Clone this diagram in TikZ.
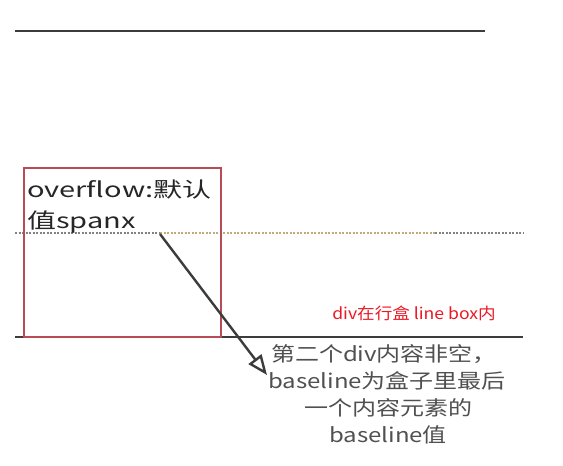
\documentclass[tikz,border=0pt]{standalone}
\usepackage{fontspec}
\usetikzlibrary{arrows.meta}
\newfontfamily\cjkbox[FakeStretch=1.38]{Noto Sans CJK SC}
\newfontfamily\cjknote[FakeStretch=1.2]{Noto Sans CJK SC}
\newfontfamily\cjkred[FakeStretch=1.1]{Noto Sans CJK SC}
\definecolor{linegray}{RGB}{60,60,60}
\definecolor{boxred}{RGB}{185,75,85}
\definecolor{notegray}{RGB}{80,80,80}
\definecolor{dottan}{RGB}{195,170,120}
\definecolor{dotgray}{RGB}{130,130,130}
\definecolor{redtext}{RGB}{235,25,35}
\tikzset{
  rule/.style={draw=linegray, line width=1.3pt},
  dotrule/.style={line width=1.2pt, dash pattern=on 2pt off 1.5pt},
  boxtxt/.style={inner sep=0pt, anchor=base west, font=\cjkbox\fontsize{21}{24}\selectfont, text=black!85},
  notetxt/.style={inner sep=0pt, anchor=base, font=\cjknote\fontsize{20}{24}\selectfont, text=notegray},
}
\begin{document}
\begin{tikzpicture}[x=1pt,y=-1pt]
\useasboundingbox[fill=white] (0,0) rectangle (563,466);
% lines
\coordinate (t1) at (15,31);
\coordinate (t2) at (485,31);
\draw[rule] (t1) -- (t2);
\coordinate (d1) at (15,233);
\coordinate (d2) at (160,233);
\coordinate (d3) at (435,233);
\coordinate (d4) at (523,233);
\draw[dotrule, draw=dotgray] (d1) -- (d2);
\draw[dotrule, draw=dottan] (d2) -- (d3);
\draw[dotrule, draw=dotgray] (d3) -- (d4);
\coordinate (b1) at (15,337);
\coordinate (b2) at (523,337);
\draw[rule] (b1) -- (b2);
% red box
\node[draw=boxred, line width=1.6pt, minimum width=197pt, minimum height=169pt, anchor=north west, inner sep=0pt] (box) at (23,167) {};
\node[boxtxt] (l1) at (27,197) {overflow:默认};
\node[boxtxt] (l2) at (27,228) {值spanx};
% red label
\node[inner sep=0pt, anchor=base, font=\cjkred\fontsize{16}{20}\selectfont, text=redtext] (lb) at (414,319) {div在行盒 line box内};
% note
\node[notetxt] (n1) at (384,361) {第二个div内容非空，};
\node[notetxt] (n2) at (387,388) {baseline为盒子里最后};
\node[notetxt] (n3) at (388,415) {一个内容元素的};
\node[notetxt] (n4) at (388,442) {baseline值};
% arrow
\coordinate (as) at (160,234);
\coordinate (ae) at (267,375);
\draw[draw=linegray, line width=2.4pt, -{Triangle[open, length=20pt, width=16pt, line width=2.4pt]}] (as) -- (ae);
\end{tikzpicture}
\end{document}
